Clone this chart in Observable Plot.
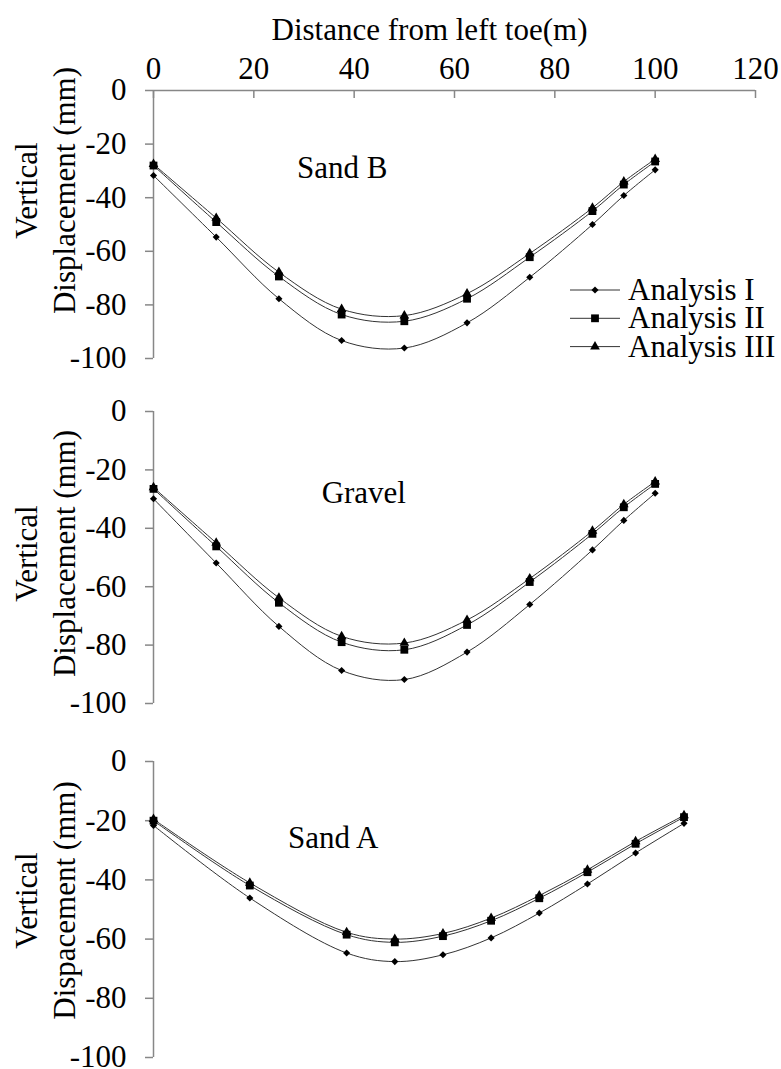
<!DOCTYPE html>
<html><head><meta charset="utf-8">
<script src="https://cdn.jsdelivr.net/npm/d3@7"></script>
<script src="https://cdn.jsdelivr.net/npm/@observablehq/plot@0.6"></script>
<style>
body{margin:0;background:#fff;}
#chart{position:relative;width:781px;height:1069px;font-family:"Liberation Serif","Times New Roman",serif;}
#chart svg{display:block;}
#legend{position:absolute;left:560px;top:270px;}
</style></head><body><div id="chart"></div>
<script>
// ---------- data ----------
const seriesNames = ["Analysis I", "Analysis II", "Analysis III"];
const xTicks = [0, 20, 40, 60, 80, 100, 120];
const yTicks = [0, -20, -40, -60, -80, -100];
const xTitle = "Distance from left toe(m)";

const xSandB = [0, 12.5, 25, 37.5, 50, 62.5, 75, 87.5, 93.75, 100];
const sandB_I   = [-31.7, -54.7, -77.7, -93.3, -96.1, -86.7, -69.7, -50.0, -39.2, -29.6];
const sandB_II  = [-28.0, -49.1, -69.4, -83.6, -86.1, -77.7, -62.2, -45.0, -35.1, -26.5];
const sandB_III = [-27.5, -47.6, -67.8, -81.6, -84.0, -75.8, -60.8, -43.8, -34.0, -25.6];

const xGravel = [0, 12.5, 25, 37.5, 50, 62.5, 75, 87.5, 93.75, 100];
const gravel_I   = [-29.9, -51.9, -73.6, -88.7, -91.8, -82.4, -66.1, -47.4, -37.3, -28.0];
const gravel_II  = [-26.5, -46.2, -65.5, -79.0, -81.6, -73.1, -58.4, -41.9, -32.8, -24.8];
const gravel_III = [-26.0, -45.0, -63.8, -77.0, -79.3, -71.4, -57.2, -40.9, -31.8, -24.0];

const xSandA = [0, 19.2, 38.5, 48.1, 57.7, 67.3, 76.9, 86.5, 96.1, 105.75];
const sandA_I   = [-21.6, -46.1, -64.7, -67.6, -65.3, -59.6, -51.2, -41.4, -30.9, -20.9];
const sandA_II  = [-20.0, -41.9, -58.5, -61.1, -59.0, -53.8, -46.2, -37.4, -27.8, -18.8];
const sandA_III = [-19.5, -41.0, -57.7, -60.0, -58.1, -52.9, -45.3, -36.6, -27.0, -18.2];

const panelNames = ["Sand B", "Gravel", "Sand A"];
const yTitles = ["Vertical\nDisplacement (mm)", "Vertical\nDisplacement (mm)", "Vertical\nDispacement (mm)"];

// ---------- build rows ----------
function rows(xs, a, b, c) {
  const out = [];
  [a, b, c].forEach((ys, k) => ys.forEach((y, i) => out.push({x: xs[i], y, series: seriesNames[k]})));
  return out;
}
const panels = [
  rows(xSandB, sandB_I, sandB_II, sandB_III),
  rows(xGravel, gravel_I, gravel_II, gravel_III),
  rows(xSandA, sandA_I, sandA_II, sandA_III)
];

const FONT = "Liberation Serif, Times New Roman, serif";
const AXIS = "#878787";
const LINE = "#333";
const symbols = {"Analysis I": ["diamond2", 3.2], "Analysis II": ["square", 4.4], "Analysis III": ["triangle", 3.6]};

const layout = [
  {mt: 90, fh: 268, mb: 22, labelDx: 188.7, labelDy: 78, titleDy: -34},
  {mt: 31, fh: 292, mb: 24, labelDx: 210.3, labelDy: 82, titleDy: -4},
  {mt: 34, fh: 296, mb: 12, labelDx: 179.7, labelDy: 77, titleDy: -9}
];

const chart = document.getElementById("chart");

panels.forEach((data, i) => {
  const L = layout[i];
  const marks = [
    Plot.ruleX([0], {stroke: AXIS, strokeWidth: 1.5}),
    Plot.axisY(yTicks, {anchor: "left", tickSize: 8, tickPadding: 19, tickFormat: d => String(d),
      stroke: AXIS, strokeWidth: 1.5, fill: "#000", fontSize: 31, label: null}),
    Plot.line(data, {x: "x", y: "y", z: "series", curve: "catmull-rom", stroke: LINE, strokeWidth: 1}),
    ...seriesNames.map(s => Plot.dot(data.filter(d => d.series === s),
      {x: "x", y: "y", symbol: symbols[s][0], r: symbols[s][1], fill: "#000", stroke: "none"})),
    Plot.text([panelNames[i]], {text: d => d, frameAnchor: "top-left", dx: L.labelDx, dy: L.labelDy,
      textAnchor: "middle", lineAnchor: "middle", fontSize: 31, fill: "#000"}),
    Plot.text([yTitles[i]], {text: d => d, frameAnchor: "left", rotate: -90, dx: -109.5, dy: L.titleDy,
      textAnchor: "middle", lineAnchor: "middle", lineHeight: 1.2, fontSize: 31, fill: "#000"})
  ];
  if (i === 0) {
    marks.push(
      Plot.ruleY([0], {stroke: AXIS, strokeWidth: 1.5}),
      Plot.tickX(xTicks, {x: d => d, stroke: AXIS, strokeWidth: 1.5, insetBottom: L.fh - 8}),
      Plot.axisX(xTicks, {anchor: "top", tickSize: 0, tickPadding: 12, tickFormat: d => String(d),
        fill: "#000", fontSize: 31, label: null}),
      Plot.text([xTitle], {text: d => d, frameAnchor: "top", dx: -25, dy: -60,
        textAnchor: "middle", lineAnchor: "middle", fontSize: 31, fill: "#000"})
    );
  }
  const svg = Plot.plot({
    width: 781,
    height: L.mt + L.fh + L.mb,
    marginTop: L.mt, marginBottom: L.mb, marginLeft: 153, marginRight: 26,
    x: {domain: [0, 120], axis: null},
    y: {domain: [-100, 0], axis: null},
    style: {fontFamily: FONT, fontSize: "31px", color: "#000", background: "#fff", overflow: "visible"},
    marks
  });
  chart.appendChild(svg);
});

// ---------- legend ----------
const lg = d3.select(chart).append("svg").attr("id", "legend").attr("width", 221).attr("height", 100)
  .style("font-family", FONT).style("font-size", "31px");
seriesNames.forEach((s, k) => {
  const cy = 20 + k * 28.3;
  lg.append("line").attr("x1", 10).attr("x2", 60).attr("y1", cy).attr("y2", cy)
    .attr("stroke", LINE).attr("stroke-width", 1);
  const typ = {diamond2: d3.symbolDiamond2, square: d3.symbolSquare, triangle: d3.symbolTriangle}[symbols[s][0]];
  lg.append("path").attr("transform", `translate(35,${cy})`)
    .attr("d", d3.symbol(typ, Math.PI * symbols[s][1] ** 2)()).attr("fill", "#000");
  lg.append("text").attr("x", 68).attr("y", cy).attr("dy", "0.32em").text(s);
});
</script></body></html>
